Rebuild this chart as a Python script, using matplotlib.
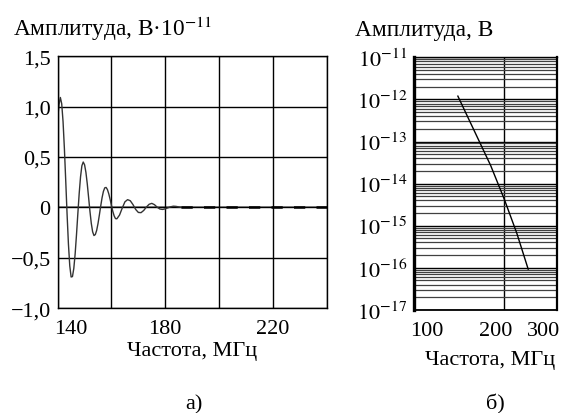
import numpy as np
import matplotlib
matplotlib.use("Agg")
import matplotlib.pyplot as plt
from matplotlib.transforms import ScaledTranslation

plt.rcParams['font.family'] = ['Liberation Serif', 'DejaVu Serif']
plt.rcParams['mathtext.fontset'] = 'stix'

# --- panel a): damped oscillation (amplitude x 1e-11 V)
freq_a = [140, 140.5, 141, 141.5, 142, 142.5, 143, 143.5, 144, 144.5, 145, 145.5,
          146, 146.5, 147, 147.5, 148, 148.5, 149, 149.5, 150, 150.5, 151, 151.5,
          152, 152.5, 153, 153.5, 154, 154.5, 155, 155.5, 156, 156.5, 157, 157.5,
          158, 158.5, 159, 159.5, 160, 160.5, 161, 161.5, 162, 163, 164, 165, 166,
          167, 168, 169, 170, 171, 172, 173, 174, 175, 176, 177, 178, 179, 180,
          181, 182, 183, 184, 185, 186]
amp_a = [0.88, 1.02, 1.09, 1.028, 0.851, 0.583, 0.262, -0.069, -0.363, -0.58,
         -0.69, -0.686, -0.605, -0.46, -0.27, -0.062, 0.138, 0.303, 0.413, 0.45,
         0.423, 0.348, 0.235, 0.099, -0.038, -0.158, -0.242, -0.279, -0.269,
         -0.228, -0.16, -0.076, 0.013, 0.095, 0.158, 0.194, 0.198, 0.177, 0.135,
         0.08, 0.019, -0.039, -0.084, -0.111, -0.113, -0.076, -0.007, 0.055, 0.077,
         0.066, 0.028, -0.02, -0.05, -0.052, -0.03, 0.004, 0.031, 0.04, 0.027,
         0.002, -0.016, -0.02, -0.014, -0.004, 0.006, 0.012, 0.01, 0.005, 0.0]
tail_f = [186, 240]
tail_a = [0.0, 0.0]
yticks_a = [-1.0, -0.5, 0.0, 0.5, 1.0, 1.5]
ylabels_a = ['\u22121,0', '\u22120,5', '0', '0,5', '1,0', '1,5']
xticks_a = [140, 160, 180, 200, 220, 240]
xlabels_a = ['140', '', '180', '', '220', '']

# --- panel б): spectrum, log-log
freq_b = [140, 160, 180, 200, 220, 240]
amp_b = [1.2e-12, 1.6e-13, 2.7e-14, 4.2e-15, 6.6e-16, 9.3e-17]
yticks_b = [1e-17, 1e-16, 1e-15, 1e-14, 1e-13, 1e-12, 1e-11]
xticks_b = [100, 200, 300]

fig = plt.figure(figsize=(5.71, 4.14), dpi=100)

# panel a
ax1 = fig.add_axes([0.101, 0.253, 0.471, 0.609])
ax1.plot(freq_a, amp_a, color='0.2', lw=1.0)
ax1.plot(tail_f, tail_a, color='black', lw=1.8, linestyle=(0, (4.5, 4.5)))
ax1.set_xlim(140, 240)
ax1.set_ylim(-1.0, 1.5)
ax1.set_xticks(xticks_a)
ax1.set_xticklabels(xlabels_a)
ax1.set_yticks(yticks_a)
ax1.set_yticklabels(ylabels_a)
ax1.grid(True, color='black', lw=1.0)
ax1.axhline(0, color='0.55', lw=1.3, zorder=1.5)
ax1.tick_params(length=0, labelsize=16, pad=5)
ax1.tick_params(axis='x', pad=8)
for s in ax1.spines.values():
    s.set_linewidth(1.0)
# first x label sits inside the frame
lbl = ax1.get_xticklabels()[0]
lbl.set_transform(lbl.get_transform() + ScaledTranslation(13 / 100, 0, fig.dpi_scale_trans))
ax1.set_xlabel('Частота, МГц', fontsize=16, labelpad=2)
fig.text(0.023, 0.912, 'Амплитуда, В\u00b710$^{-11}$', fontsize=16.8)
fig.text(0.34, 0.012, 'а)', fontsize=16, ha='center')

# panel б
ax2 = fig.add_axes([0.725, 0.249, 0.251, 0.610])
ax2.set_xscale('log')
ax2.set_yscale('log')
ax2.plot(freq_b, amp_b, color='black', lw=1.0)
ax2.set_xlim(100, 300)
ax2.set_ylim(1e-17, 1e-11)
ax2.set_yticks(yticks_b)
ax2.set_yticklabels([f'$10^{{{int(np.log10(v))}}}$' for v in yticks_b])
ax2.set_xticks(xticks_b)
ax2.set_xticklabels([str(v) for v in xticks_b])
ax2.xaxis.set_minor_locator(matplotlib.ticker.NullLocator())
ax2.yaxis.set_minor_locator(matplotlib.ticker.LogLocator(base=10, subs=range(2, 10), numticks=50))
ax2.yaxis.set_minor_formatter(matplotlib.ticker.NullFormatter())
ax2.grid(True, which='major', color='black', lw=1.0)
ax2.grid(True, which='minor', axis='y', color='0.25', lw=0.9)
ax2.tick_params(which='both', length=0, labelsize=16, pad=5)
ax2.tick_params(axis='x', pad=8)
ax2.spines['left'].set_linewidth(2.4)
ax2.spines['right'].set_linewidth(1.6)
ax2.spines['bottom'].set_linewidth(1.3)
ax2.spines['top'].set_linewidth(1.0)
for lbl, dx in zip(ax2.get_xticklabels(), [13, -9, -14]):
    lbl.set_transform(lbl.get_transform() + ScaledTranslation(dx / 100, 0, fig.dpi_scale_trans))
ax2.set_xlabel('Частота, МГц', fontsize=16, labelpad=2)
ax2.xaxis.set_label_coords(0.53, -0.16)
fig.text(0.622, 0.912, 'Амплитуда, В', fontsize=16.8)
fig.text(0.867, 0.012, 'б)', fontsize=16, ha='center')

fig.savefig('out.png', dpi=100)
